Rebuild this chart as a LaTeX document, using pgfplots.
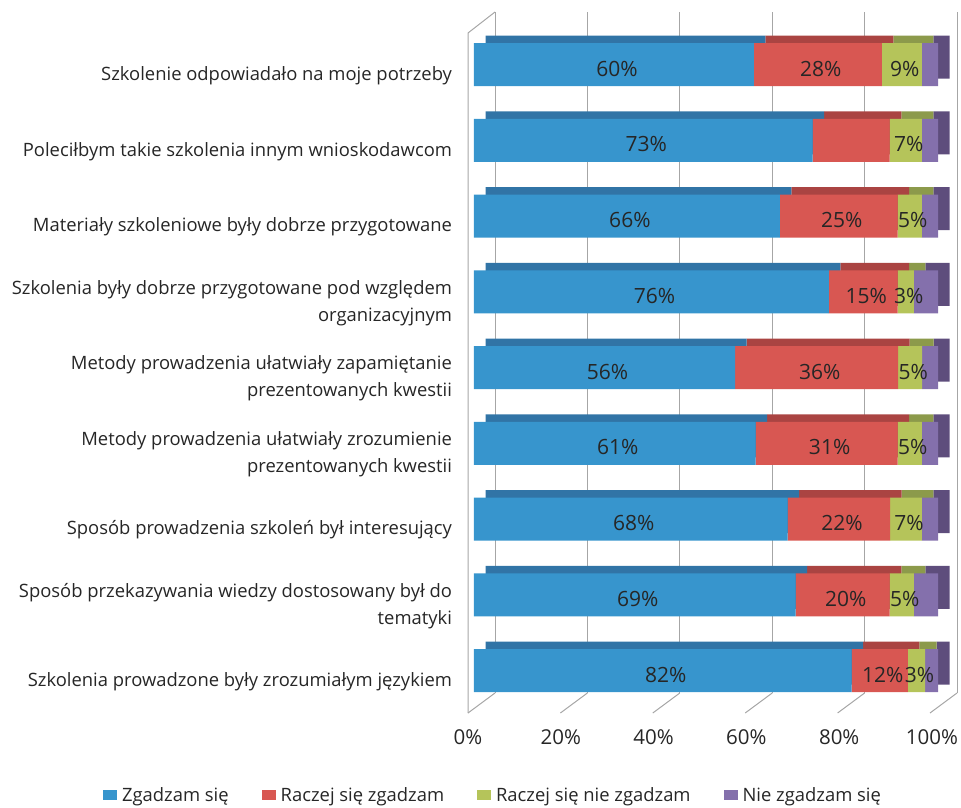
\documentclass[border=0pt]{standalone}
\usepackage{fontspec}
\setmainfont{Open Sans}
\usepackage{pgfplots}
\usepackage{pgfplotstable}
\pgfplotsset{compat=1.18}
\definecolor{cA}{HTML}{3795CD}
\definecolor{cB}{HTML}{D85752}
\definecolor{cC}{HTML}{B5C45A}
\definecolor{cD}{HTML}{8470AC}
\definecolor{dA}{HTML}{3174A6}
\definecolor{dB}{HTML}{AA4442}
\definecolor{dC}{HTML}{8C9A4B}
\definecolor{dD}{HTML}{5E4D7C}
\definecolor{gridc}{HTML}{A6A6A6}
\definecolor{txt}{HTML}{262626}

\pgfplotstableread{
y a b c d la lb lc
9 60.3 27.6 8.6 3.5 60\% 28\% 9\%
8 73.0 16.6 6.9 3.5 73\% {} 7\%
7 65.9 25.4 5.2 3.5 66\% 25\% 5\%
6 76.5 14.8 3.5 5.2 76\% 15\% 3\%
5 56.3 35.1 5.2 3.4 56\% 36\% 5\%
4 60.7 30.6 5.2 3.5 61\% 31\% 5\%
3 67.6 22.1 6.8 3.5 68\% 22\% 7\%
2 69.3 20.3 5.2 5.2 69\% 20\% 5\%
1 81.4 12.1 3.7 2.8 82\% 12\% 3\%
}\data
% label positions: centre of each segment
\pgfplotstablecreatecol[expr={\thisrow{a}/2}]{ma}{\data}
\pgfplotstablecreatecol[expr={\thisrow{a}+\thisrow{b}/2}]{mb}{\data}
\pgfplotstablecreatecol[expr={\thisrow{a}+\thisrow{b}+\thisrow{c}/2}]{mc}{\data}

\newcommand{\cf}{\fontsize{18.4}{27}\selectfont}
\newcommand{\lf}{\fontsize{18.4}{22}\selectfont}
\newcommand{\vf}{\fontsize{21}{24}\selectfont}
\newcommand{\tf}{\fontsize{20.5}{24}\selectfont}

\pgfplotsset{
  mylegend/.style={legend image code/.code={\fill[##1] (0pt,-5pt) rectangle (10pt,5pt); \path (0pt,-5pt) rectangle (14pt,5pt);}},
  vlab/.style={draw=none, mark=none, nodes near coords, point meta=explicit symbolic,
    every node near coord/.append style={anchor=center, xshift=3pt, yshift=-4pt, font=\vf, text=txt}},
}

\begin{document}
\begin{tikzpicture}[x=1pt,y=1pt]
\useasboundingbox (0,0) rectangle (961,807);
% back plane grid
\begin{axis}[at={(495pt,114pt)}, anchor=south west, width=462pt, height=681pt, scale only axis,
  xmin=0, xmax=100, ymin=0, ymax=1, xtick={0,20,...,100}, xticklabels={}, ytick=\empty,
  xmajorgrids, major grid style={gridc, line width=1pt},
  axis line style={draw=none}, tick style={draw=none}, clip=false]
\addplot[draw=none] coordinates {(0,0) (100,1)};
\pgfplotsinvokeforeach{0,20,40,60,80,100}{
  \draw[gridc, line width=1pt] (axis cs:#1,0) -- ([xshift=-27pt,yshift=-20pt]axis cs:#1,0);
}
\draw[gridc, line width=1pt] ([xshift=-27pt,yshift=-20pt]axis cs:0,0) -- ([xshift=-27pt,yshift=-21pt]axis cs:0,1) -- (axis cs:0,1);
\end{axis}
% depth faces
\begin{axis}[at={(485.5pt,106.1pt)}, anchor=south west, width=464pt, height=681.75pt, scale only axis,
  xmin=0, xmax=100, ymin=0.5, ymax=9.5, xbar stacked, bar width=43pt, hide axis, clip=false]
\addplot[fill=dA, draw=none] table[x=a, y=y]{\data};
\addplot[fill=dB, draw=none] table[x=b, y=y]{\data};
\addplot[fill=dC, draw=none] table[x=c, y=y]{\data};
\addplot[fill=dD, draw=none] table[x=d, y=y]{\data};
\end{axis}
% front faces
\begin{axis}[at={(474pt,98.6pt)}, anchor=south west, width=464pt, height=681.75pt, scale only axis,
  xmin=0, xmax=100, ymin=0.5, ymax=9.5, xbar stacked, bar width=43pt, clip=false,
  axis line style={draw=none}, tick style={draw=none},
  xtick={0,20,...,100}, xticklabels={0\%,20\%,40\%,60\%,80\%,100\%},
  xticklabel style={anchor=center, xshift=-6pt, yshift=-28.6pt, font=\tf, text=txt},
  ytick={1,...,9},
  yticklabels={
    {Szkolenia prowadzone były zrozumiałym językiem},
    {Sposób przekazywania wiedzy dostosowany był do\\tematyki},
    {Sposób prowadzenia szkoleń był interesujący},
    {Metody prowadzenia ułatwiały zrozumienie\\prezentowanych kwestii},
    {Metody prowadzenia ułatwiały zapamiętanie\\prezentowanych kwestii},
    {Szkolenia były dobrze przygotowane pod względem\\organizacyjnym},
    {Materiały szkoleniowe były dobrze przygotowane},
    {Poleciłbym takie szkolenia innym wnioskodawcom},
    {Szkolenie odpowiadało na moje potrzeby}},
  yticklabel style={align=right, font=\cf, text=txt, xshift=-18.5pt, yshift=-11pt},
  legend columns=4,
  legend style={at={(0.041,-0.127)}, anchor=center, draw=none, fill=none, font=\lf, text=txt,
    /tikz/every even column/.append style={column sep=31pt}},
]
\addplot[fill=cA, draw=none, mylegend] table[x=a, y=y]{\data};
\addplot[fill=cB, draw=none, mylegend] table[x=b, y=y]{\data};
\addplot[fill=cC, draw=none, mylegend] table[x=c, y=y]{\data};
\addplot[fill=cD, draw=none, mylegend] table[x=d, y=y]{\data};
\legend{\hspace{3pt}Zgadzam się, \hspace{3pt}Raczej się zgadzam, \hspace{3pt}Raczej się nie zgadzam, \hspace{3pt}Nie zgadzam się}
\end{axis}
% value labels
\begin{axis}[at={(474pt,98.6pt)}, anchor=south west, width=464pt, height=681.75pt, scale only axis,
  xmin=0, xmax=100, ymin=0.5, ymax=9.5, hide axis, clip=false]
\addplot[vlab] table[x=ma, y=y, meta=la]{\data};
\addplot[vlab] table[x=mb, y=y, meta=lb]{\data};
\addplot[vlab] table[x=mc, y=y, meta=lc]{\data};
\end{axis}
\end{tikzpicture}
\end{document}
